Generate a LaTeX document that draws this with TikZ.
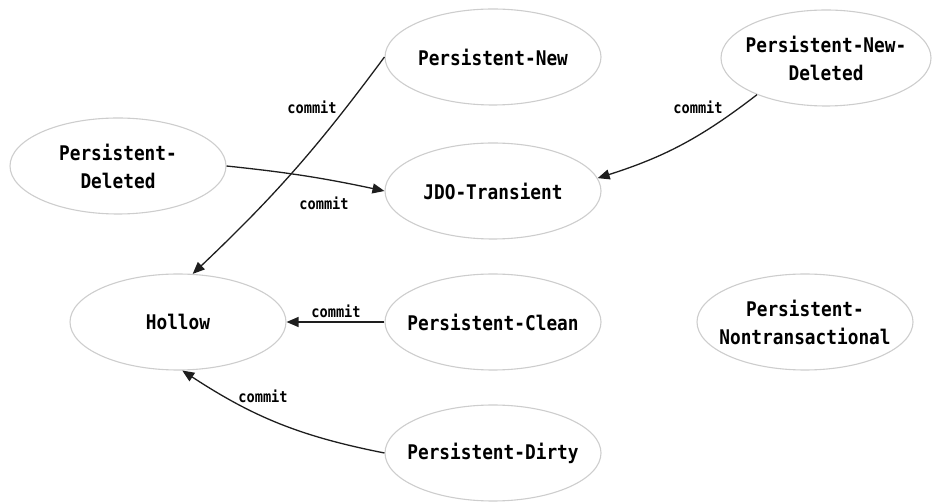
\documentclass[tikz,border=0pt]{standalone}
\usepackage{fontspec}
\usetikzlibrary{shapes.geometric,arrows.meta}
\newfontfamily\statefont[FakeStretch=0.88]{DejaVu Sans Mono}
\definecolor{ellgray}{RGB}{205,205,205}
\definecolor{edgecol}{RGB}{30,30,30}
\tikzset{
  state/.style={ellipse, draw=ellgray, line width=1.1pt, minimum width=216pt, minimum height=96pt,
    inner sep=0pt, inner xsep=-14pt, align=center, text=black,
    font={\statefont\bfseries\fontsize{20.2}{28}\selectfont}},
  lbl/.style={inner sep=1pt, text=black, font={\statefont\bfseries\fontsize{15.5}{18}\selectfont}},
  arr/.style={draw=edgecol, line width=1.3pt, -{Triangle[length=12pt,width=10pt]}}
}
\begin{document}
\begin{tikzpicture}[x=1pt,y=1pt]
\useasboundingbox (0,0) rectangle (932,-502);
\node[state] (pn) at (493,-57) {Persistent-New};
\node[state] (pd) at (118,-166) {Persistent-\\Deleted};
\node[state] (jdo) at (493,-191) {JDO-Transient};
\node[state, minimum width=210pt] (pnd) at (826,-58) {Persistent-New-\\Deleted};
\node[state] (hollow) at (178,-322) {Hollow};
\node[state] (pc) at (493,-322) {Persistent-Clean};
\node[state] (ptx) at (805,-322) {Persistent-\\Nontransactional};
\node[state] (pdirty) at (493,-453) {Persistent-Dirty};

\draw[arr] (pn.west) to[bend left=5] (hollow.73);
\draw[arr] (pd.east) to[bend left=3] (jdo.west);
\draw[arr] (pnd.208) to[bend left=10] (jdo.7);
\draw[arr] (pc.west) -- (hollow.east);
\draw[arr] (pdirty.west) to[bend left=11] (hollow.-85);

\node[lbl] (l1) at (312,-107) {commit};
\node[lbl] (l2) at (324,-203) {commit};
\node[lbl] (l3) at (698,-107) {commit};
\node[lbl] (l4) at (336,-311) {commit};
\node[lbl] (l5) at (263,-396) {commit};
\end{tikzpicture}
\end{document}
